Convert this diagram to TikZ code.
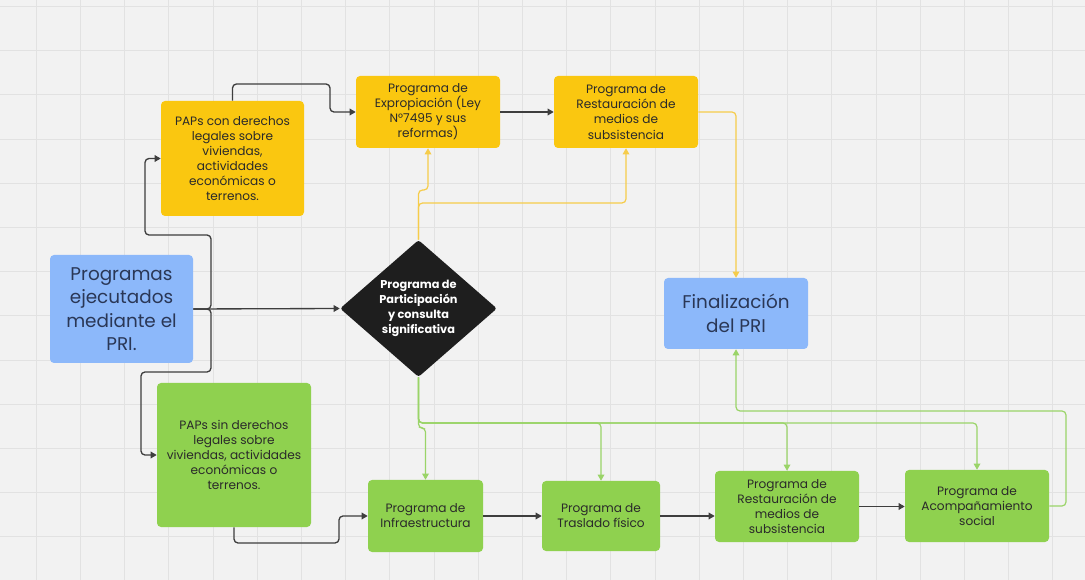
\documentclass[tikz,border=0pt]{standalone}
\usepackage{fontspec}
\setmainfont{Poppins}
\usetikzlibrary{arrows.meta,shapes.geometric}

\definecolor{bgcol}{HTML}{F2F2F2}
\definecolor{gridcol}{HTML}{E2E2E2}
\definecolor{yellowfill}{HTML}{FAC710}
\definecolor{greenfill}{HTML}{8FD14F}
\definecolor{bluefill}{HTML}{8CB8FA}
\definecolor{darkfill}{HTML}{1E1E1E}
\definecolor{inktext}{HTML}{2A2A2A}
\definecolor{bluetext}{HTML}{2A3756}
\definecolor{yellowline}{HTML}{F6CC4A}
\definecolor{greenline}{HTML}{9AD468}
\definecolor{darkline}{HTML}{3E3E3E}

\tikzset{
  box/.style={rectangle, rounded corners=3pt, inner sep=0pt, align=center,
    text=inktext, font=\fontsize{9.1}{11.3}\selectfont},
  ybox/.style={box, fill=yellowfill},
  gbox/.style={box, fill=greenfill},
  bbox/.style={box, fill=bluefill, text=bluetext, font=\fontsize{13.8}{17.6}\selectfont},
  decision/.style={diamond, fill=darkfill, text=white, inner sep=0pt, align=center,
    rounded corners=2pt, font=\bfseries\fontsize{8.5}{11.2}\selectfont},
  tip/.style={-{Triangle[length=4.6pt,width=5pt]}},
  dk/.style={tip, draw=darkline, line width=1pt, rounded corners=3pt},
  yl/.style={tip, draw=yellowline, line width=0.9pt, rounded corners=3pt},
  gl/.style={tip, draw=greenline, line width=0.9pt, rounded corners=3pt},
}

\begin{document}
\begin{tikzpicture}[x=0.75pt, y=-0.75pt]
  % canvas and grid
  \useasboundingbox (0,0) rectangle (1085,580);
  \fill[bgcol] (0,0) rectangle (1085,580);
  \begin{scope}
    \clip (0,0) rectangle (1085,580);
    \foreach \i in {0,...,24} {
      \draw[gridcol, line width=0.7pt] (36.2+44.2*\i,0) -- (36.2+44.2*\i,580);
    }
    \foreach \j in {0,...,13} {
      \draw[gridcol, line width=0.7pt] (0,6.4+44.2*\j) -- (1085,6.4+44.2*\j);
    }
  \end{scope}

  % nodes
  \node[bbox, minimum width=107.25pt, minimum height=81pt] (pri) at (121.5,309)
    {Programas\\ejecutados\\mediante el\\PRI.};
  \node[decision, minimum width=117.75pt, minimum height=102.75pt] (part) at (418.5,308.5)
    {Programa de\\Participación\\y consulta\\significativa};
  \node[ybox, minimum width=107.25pt, minimum height=86.25pt] (con) at (232.5,158.5)
    {PAPs con derechos\\legales sobre\\viviendas,\\actividades\\económicas o\\terrenos.};
  \node[ybox, minimum width=108pt, minimum height=54pt] (expro) at (428,112)
    {Programa de\\Expropiación (Ley\\N°7495 y sus\\reformas)};
  \node[ybox, minimum width=108pt, minimum height=54pt] (resty) at (626,112)
    {Programa de\\Restauración de\\medios de\\subsistencia};
  \node[bbox, minimum width=108pt, minimum height=53.25pt] (fin) at (736,313.5)
    {Finalización\\del PRI};
  \node[gbox, minimum width=115.5pt, minimum height=108pt] (sin) at (234,455)
    {PAPs sin derechos\\legales sobre\\viviendas, actividades\\económicas o\\terrenos.};
  \node[gbox, minimum width=86.25pt, minimum height=54pt] (infra) at (425.5,516)
    {Programa de\\Infraestructura};
  \node[gbox, minimum width=88.5pt, minimum height=52.5pt] (tras) at (601,516)
    {Programa de\\Traslado físico};
  \node[gbox, minimum width=108pt, minimum height=53.25pt] (restg) at (787,506.5)
    {Programa de\\Restauración de\\medios de\\subsistencia};
  \node[gbox, minimum width=108pt, minimum height=54pt] (acomp) at (977,506)
    {Programa de\\Acompañamiento\\social};

  % dark connectors
  \draw[dk] (pri.east) -- (part.west);
  \draw[dk] (pri.east) -| (211,235) -- (145,235) |- (con.west);
  \draw[dk] (pri.east) -| (211,372) -- (141,372) |- (sin.west);
  \draw[dk] (con.north) |- (330,84) |- (expro.west);
  \draw[dk] (expro.east) -- (resty.west);
  \draw[dk] (sin.south) |- (339,543) |- (infra.west);
  \draw[dk] (infra.east) -- (tras.west);
  \draw[dk] (tras.east) -- (restg.west |- tras.east);
  \draw[dk] (restg.east) -- (acomp.west |- restg.east);

  % yellow connectors
  \draw[yl] (part.north) -- (418.5,190) -| (expro.south);
  \draw[yl] (part.north) -- (418.5,203) -| (resty.south);
  \draw[yl] (resty.east) -| (fin.north);

  % green connectors
  \draw[gl] (part.south) -- (418.5,428) -| (infra.north);
  \draw[gl] (part.south) -- (418.5,423) -| (tras.north);
  \draw[gl] (part.south) -- (418.5,423) -| (restg.north);
  \draw[gl] (part.south) -- (418.5,423) -| (acomp.north);
  \draw[gl] (acomp.east) -| (1066,411) -| (fin.south);
\end{tikzpicture}
\end{document}
